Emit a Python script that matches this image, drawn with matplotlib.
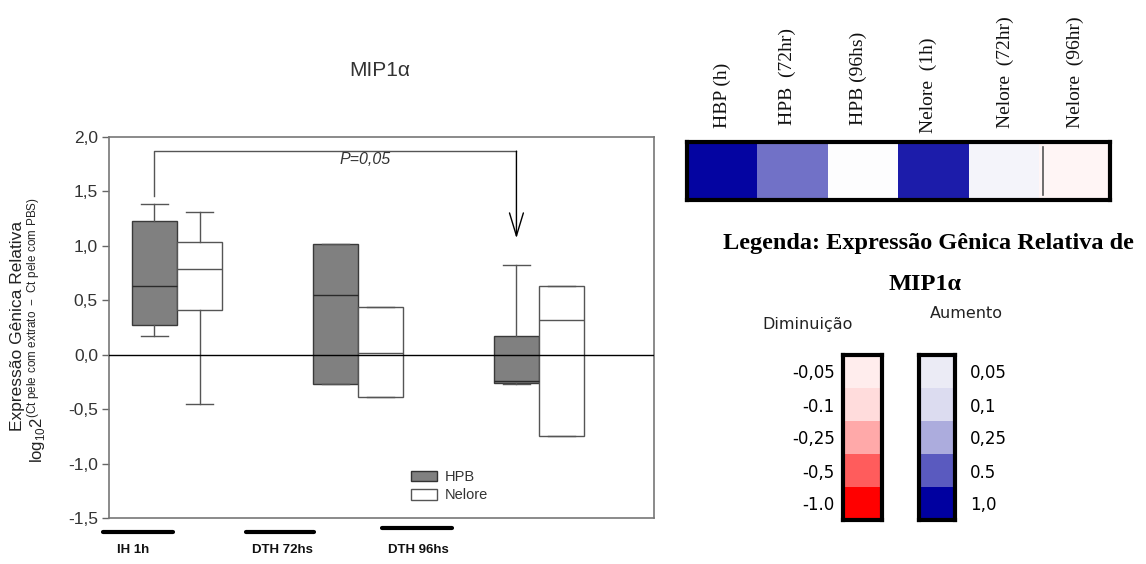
import numpy as np
import matplotlib
matplotlib.use("Agg")
import matplotlib.pyplot as plt
from matplotlib.patches import Patch
from matplotlib.lines import Line2D
from matplotlib.colors import LinearSegmentedColormap, Normalize

# ---------------- data ----------------
groups = ["IH 1h", "DTH 72hs", "DTH 96hs"]
series = ["HPB", "Nelore"]

hpb_whislo = [0.17, -0.27, -0.27]
hpb_q1 = [0.27, -0.27, -0.26]
hpb_med = [0.63, 0.55, -0.24]
hpb_q3 = [1.23, 1.02, 0.17]
hpb_whishi = [1.38, 1.02, 0.82]

nel_whislo = [-0.45, -0.39, -0.75]
nel_q1 = [0.41, -0.39, -0.75]
nel_med = [0.79, 0.02, 0.32]
nel_q3 = [1.04, 0.44, 0.63]
nel_whishi = [1.31, 0.44, 0.63]

p_text = "P=0,05"
bracket_y = 1.87
bracket_left_end = 1.46
arrow_tip = 1.07

yticks = [-1.5, -1.0, -0.5, 0.0, 0.5, 1.0, 1.5, 2.0]
ytick_labels = ["-1,5", "-1,0", "-0,5", "0,0", "0,5", "1,0", "1,5", "2,0"]

heat_labels = ["HBP (h)", "HPB  (72hr)", "HPB (96hs)", "Nelore  (1h)", "Nelore  (72hr)", "Nelore  (96hr)"]
heat_values = [0.97, 0.43, 0.0, 0.84, 0.024, -0.024]

neg_levels = [-0.05, -0.1, -0.25, -0.5, -1.0]
neg_labels = ["-0,05", "-0.1", "-0,25", "-0,5", "-1.0"]
neg_colors = ["#ffeeee", "#ffdcdc", "#ffa8a8", "#ff5c5c", "#ff0000"]
pos_levels = [0.05, 0.1, 0.25, 0.5, 1.0]
pos_labels = ["0,05", "0,1", "0,25", "0.5", "1,0"]
pos_colors = ["#ececf6", "#dcdcf0", "#aeaede", "#5c5cc0", "#0000a0"]

# ---------------- layout helpers ----------------
W, H = 1146, 564
fig = plt.figure(figsize=(W / 100, H / 100), dpi=100)
plt.rcParams["font.family"] = ["Liberation Sans", "DejaVu Sans"]


def fx(x):
    return x / W


def fy(y):
    return 1 - y / H


def axrect(x0, y0, x1, y1):
    return [fx(x0), fy(y1), (x1 - x0) / W, (y1 - y0) / H]


# ---------------- box plot ----------------
ax = fig.add_axes(axrect(109, 137, 654, 518))
centers = np.arange(1, len(groups) + 1)
off = 0.125
bw = 0.25


def stats(lo, q1, med, q3, hi):
    return [dict(whislo=a, q1=b, med=c, q3=d, whishi=e, fliers=[])
            for a, b, c, d, e in zip(lo, q1, med, q3, hi)]


ax.bxp(stats(hpb_whislo, hpb_q1, hpb_med, hpb_q3, hpb_whishi),
       positions=centers - off, widths=bw, patch_artist=True, showfliers=False,
       capwidths=0.15,
       boxprops=dict(facecolor="#808080", edgecolor="#3a3a3a", linewidth=1),
       medianprops=dict(color="#2a2a2a", linewidth=1),
       whiskerprops=dict(color="#555555", linewidth=1),
       capprops=dict(color="#555555", linewidth=1))
ax.bxp(stats(nel_whislo, nel_q1, nel_med, nel_q3, nel_whishi),
       positions=centers + off, widths=bw, patch_artist=True, showfliers=False,
       capwidths=0.15,
       boxprops=dict(facecolor="white", edgecolor="#555555", linewidth=1),
       medianprops=dict(color="#555555", linewidth=1),
       whiskerprops=dict(color="#555555", linewidth=1),
       capprops=dict(color="#555555", linewidth=1))

ax.axhline(0, color="black", linewidth=1, zorder=5)

ax.set_xlim(0.624, 3.635)
ax.set_ylim(-1.5, 2.0)
ax.set_xticks([])
ax.set_yticks(yticks)
ax.set_yticklabels(ytick_labels)
ax.tick_params(axis="y", direction="out", length=5, width=1, color="#666666",
               labelsize=12.5, labelcolor="#333333", pad=3)
for s in ax.spines.values():
    s.set_color("#777777")
    s.set_linewidth(1.2)

# significance bracket
xl = centers[0] - off
xr = centers[2] - off
ax.plot([xl, xl, xr], [bracket_left_end, bracket_y, bracket_y], color="#555555", lw=1)
ax.annotate("", xy=(xr, arrow_tip), xytext=(xr, bracket_y),
            arrowprops=dict(arrowstyle="->,head_length=1.65,head_width=0.5",
                            color="black", lw=1, shrinkA=0, shrinkB=0,
                            mutation_scale=10))
ax.text(2.04, 1.79, p_text, style="italic", fontsize=11.5, color="#333333",
        ha="center", va="center")

# legend
handles = [Patch(facecolor="#808080", edgecolor="#333333", label=series[0]),
           Patch(facecolor="white", edgecolor="#555555", label=series[1])]
ax.legend(handles=handles, loc="upper left", bbox_to_anchor=(fx(411), fy(470)),
          bbox_transform=fig.transFigure, frameon=False, fontsize=10.5,
          handlelength=1.8, handleheight=0.75, handletextpad=0.5,
          labelspacing=0.3, borderpad=0, borderaxespad=0,
          labelcolor="#333333")

# title and y label
fig.text(fx(380), fy(71), "MIP1α", fontsize=15, ha="center", va="center",
         color="#333333")
fig.text(fx(18), fy(326), "Expressão Gênica Relativa", rotation=90,
         fontsize=12.5, ha="center", va="center", color="#222222")
fig.text(fx(37), fy(330),
         r"$\mathregular{log_{10}2^{(Ct\ pele\ com\ extrato\ -\ Ct\ pele\ com\ PBS)}}$",
         rotation=90, fontsize=12, ha="center", va="center", color="#222222")

# group bars and labels below the axis
bar_spans = [(103, 173, 532), (246, 314, 532), (382, 452, 528)]
label_x = [133, 282, 418]
for (x0, x1, y), lx, g in zip(bar_spans, label_x, groups):
    fig.add_artist(Line2D([fx(x0), fx(x1)], [fy(y), fy(y)], color="black",
                          lw=3, transform=fig.transFigure,
                          solid_capstyle="round"))
    fig.text(fx(lx), fy(550), g, fontsize=9.5, fontweight="bold", ha="center",
             va="center", color="#111111")

# ---------------- heat map ----------------
nodes_v = neg_levels[::-1] + [0.0] + pos_levels
nodes_c = neg_colors[::-1] + ["#ffffff"] + pos_colors
cmap = LinearSegmentedColormap.from_list(
    "mip", [((v + 1) / 2, c) for v, c in zip(nodes_v, nodes_c)])
norm = Normalize(-1, 1)

hax = fig.add_axes(axrect(687, 142, 1110, 200))
hax.imshow(np.array(heat_values)[None, :], cmap=cmap, norm=norm,
           aspect="auto", interpolation="nearest")
hax.plot([4.55, 4.55], [-0.42, 0.42], color="#555555", lw=1.2)
hax.set_xlim(-0.5, len(heat_values) - 0.5)
hax.set_ylim(0.5, -0.5)
hax.set_xticks([])
hax.set_yticks([])
for s in hax.spines.values():
    s.set_linewidth(3)
    s.set_color("black")

heat_lab_x = [722, 787, 858, 928, 1005, 1075]
heat_lab_y = [128, 125, 125, 133, 128, 128]
for lx, ly, t in zip(heat_lab_x, heat_lab_y, heat_labels):
    fig.text(fx(lx), fy(ly), t, rotation=90, ha="center", va="bottom",
             fontsize=14, family="Liberation Serif", color="#111111")

# legend of the heat map
fig.text(fx(928), fy(243), "Legenda: Expressão Gênica Relativa de",
         fontsize=17.5, fontweight="bold", family="Liberation Serif",
         ha="center", va="center")
fig.text(fx(925), fy(285), "MIP1α", fontsize=17.5, fontweight="bold",
         family="Liberation Serif", ha="center", va="center")
fig.text(fx(808), fy(325), "Diminuição", fontsize=11.5, family="DejaVu Sans",
         ha="center", va="center", color="#222222")
fig.text(fx(966), fy(313), "Aumento", fontsize=11.5, family="DejaVu Sans",
         ha="center", va="center", color="#222222")

rax = fig.add_axes(axrect(843, 355, 882, 520))
rax.imshow(np.array(neg_levels)[:, None], cmap=cmap, norm=norm, aspect="auto",
           interpolation="nearest")
rax.set_xticks([])
rax.set_yticks(range(len(neg_levels)))
rax.set_yticklabels(neg_labels, family="DejaVu Sans", fontsize=12)
rax.tick_params(axis="y", length=0, pad=6)

bax = fig.add_axes(axrect(919, 355, 955, 520))
bax.imshow(np.array(pos_levels)[:, None], cmap=cmap, norm=norm, aspect="auto",
           interpolation="nearest")
bax.set_xticks([])
bax.set_yticks(range(len(pos_levels)))
bax.set_yticklabels(pos_labels, family="DejaVu Sans", fontsize=12)
bax.yaxis.tick_right()
bax.tick_params(axis="y", length=0, pad=11)

for a in (rax, bax):
    for s in a.spines.values():
        s.set_linewidth(3)
        s.set_color("black")

fig.savefig("out.png", dpi=100)
